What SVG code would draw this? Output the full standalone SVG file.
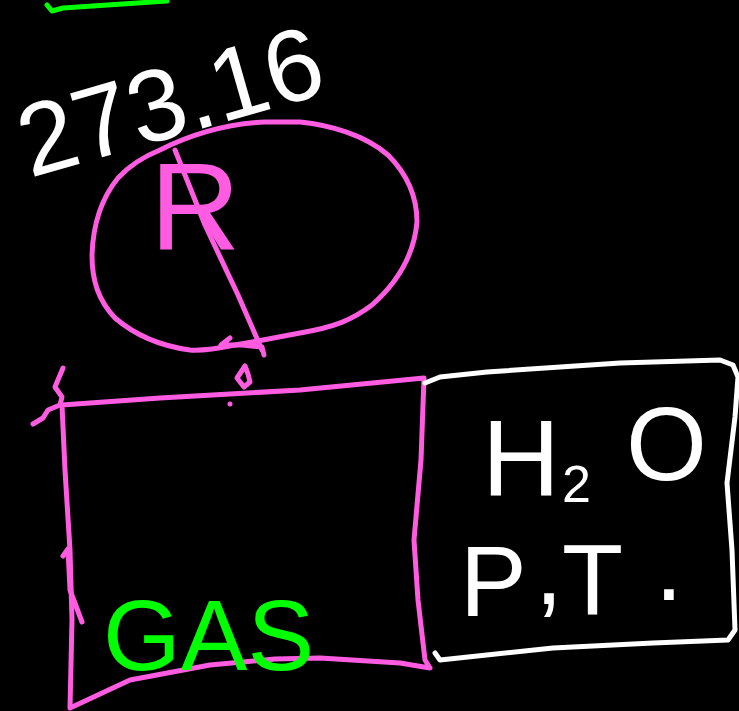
<svg xmlns="http://www.w3.org/2000/svg" width="739" height="711" viewBox="0 0 739 711">
  <style>
    .ink { fill: none; stroke-width: 5; stroke-linecap: round; stroke-linejoin: round; }
    .pink { stroke: #ff5ce1; }
    .white { stroke: #ffffff; }
    .green { stroke: #00ff00; }
    .hand { font-family: "Liberation Sans", Arial, sans-serif; }
  </style>
  <rect x="0" y="0" width="739" height="711" fill="#000000"/>

  <!-- stray green stroke at the top edge -->
  <path class="ink green" d="M47,5 L52,11 L63,8 L167,1"/>

  <!-- triple-point temperature label -->
  <g id="label-temperature">
    <text class="hand" x="30" y="178" font-size="102" fill="#ffffff" transform="rotate(-16 30 178)">273.16</text>
  </g>

  <!-- sphere with radius -->
  <g id="sphere">
    <path class="ink pink" d="M160,150 C190,135 225,124 265,122 L300,122 C330,125 365,135 388,155 C405,172 417,195 417,222 C414,255 398,282 372,305 C352,320 335,327 300,333 L263,340 L235,345 C215,349 200,351 190,350 C160,346 135,335 115,318 C98,300 92,280 92,255 C93,225 100,200 118,178 C130,165 145,156 160,150 Z"/>
    <text class="hand" x="150" y="250" font-size="125" fill="#ff5ce1">R</text>
  </g>

  <!-- gas container -->
  <g id="gas-box">
    <path class="ink pink" d="M62,405 L160,398 L300,390 L424,378 L421,460 L414,540 L418,600 L425,660 L430,668 L400,663 L320,658 L275,659 L210,665 L130,680 L70,708 L72,620 L70,550 L65,470 L62,405 Z"/>
    <path class="ink pink" d="M63,368 L55,387 L62,397 L60,405 L48,410 L43,418 L33,424"/>
    <path class="ink pink" d="M63,556 L68,549 L70,590 L82,622" stroke-width="7"/>
    <text class="hand" x="103" y="670" font-size="100" fill="#00ff00">GAS</text>
  </g>

  <!-- water reservoir at P, T -->
  <g id="water-box">
    <path class="ink white" d="M425,383 L440,377 L487,372 L620,363 L720,360 L733,365 L738,377 L735,417 L727,483 L732,550 L735,630 L728,640 L653,643 L553,648 L440,660 L435,653"/>
    <text class="hand" fill="#ffffff">
      <tspan x="482" y="495" font-size="108">H</tspan><tspan x="562" y="502" font-size="52">2</tspan><tspan x="626" y="480" font-size="104">O</tspan>
    </text>
    <text class="hand" fill="#ffffff" font-size="100">
      <tspan x="460" y="616">P</tspan><tspan x="535" y="604">,</tspan><tspan x="562" y="614">T</tspan><tspan x="655" y="600">.</tspan>
    </text>
  </g>

  <!-- radius arrow and link between sphere and container -->
  <g id="connectors">
    <path class="ink pink" d="M175,150 L205,225 L238,295 L262,350"/>
    <path class="ink pink" d="M230,338 L221,345 L242,345 L262,347 L264,355"/>
    <path class="ink pink" d="M237,378 L245,366 L248,374 L250,382 L244,387 Z" fill="#ff5ce1"/>
    <circle cx="230" cy="404" r="2.5" fill="#ff5ce1"/>
  </g>
</svg>
